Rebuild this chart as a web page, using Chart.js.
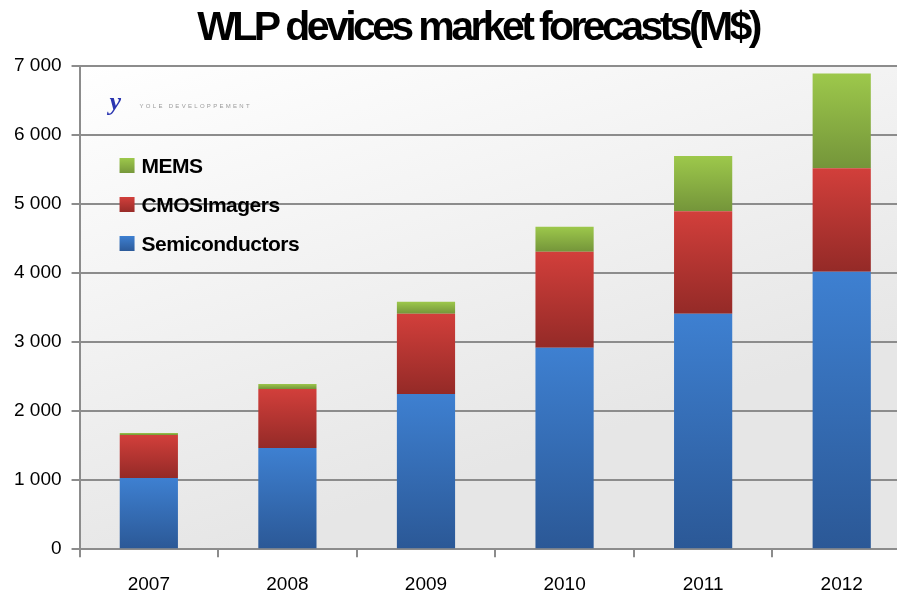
<!DOCTYPE html>
<html>
<head>
<meta charset="utf-8">
<script src="https://cdn.jsdelivr.net/npm/chart.js@4/dist/chart.umd.min.js"></script>
<style>
  html, body { margin: 0; padding: 0; background: #fff; overflow: hidden; }
  #wrap { width: 897px; height: 595px; overflow: hidden; }
</style>
</head>
<body>
<div id="wrap"><canvas id="wlpChart" width="911" height="612"></canvas></div>
<script>
const years = ['2007', '2008', '2009', '2010', '2011', '2012'];
const semiconductors = [1030, 1466, 2250, 2917, 3411, 4020];
const cmosImagers = [625, 856, 1160, 1393, 1484, 1500];
const mems = [30, 73, 175, 363, 800, 1370];
const yTicks = [0, 1000, 2000, 3000, 4000, 5000, 6000, 7000];
const chartTitle = 'WLP devices market forecasts(M$)';

// top / bottom colours of each segment's gradient
const shades = {
  Semiconductors: ['#3e80d1', '#2b5896'],
  CMOSImagers: ['#d23f3b', '#942a27'],
  MEMS: ['#9dc84b', '#74953a']
};

function segmentFill(ctx) {
  const chart = ctx.chart;
  const ds = chart.data.datasets[ctx.datasetIndex];
  const pair = shades[ds.key];
  const y = chart.scales.y;
  if (!chart.chartArea || !y || ctx.dataIndex === undefined) return pair[0];
  let base = 0;
  for (let i = 0; i < ctx.datasetIndex; i++) base += chart.data.datasets[i].data[ctx.dataIndex];
  const top = y.getPixelForValue(base + ds.data[ctx.dataIndex]);
  const bottom = y.getPixelForValue(base);
  if (!isFinite(top) || !isFinite(bottom) || top === bottom) return pair[0];
  const g = chart.ctx.createLinearGradient(0, top, 0, bottom);
  g.addColorStop(0, pair[0]);
  g.addColorStop(1, pair[1]);
  return g;
}

const plotBackground = {
  id: 'plotBackground',
  beforeDraw(chart) {
    const a = chart.chartArea;
    const c = chart.ctx;
    const g = c.createLinearGradient(a.left, a.top, a.left + 150, a.bottom);
    g.addColorStop(0, '#ffffff');
    g.addColorStop(1, '#e6e6e6');
    c.save();
    c.fillStyle = g;
    c.fillRect(a.left, a.top, a.right - a.left, a.bottom - a.top);
    c.restore();
  }
};

// condensed bold title, legend and logo inside the plot
const overlay = {
  id: 'overlay',
  afterDraw(chart) {
    const c = chart.ctx;
    const a = chart.chartArea;
    c.save();
    c.fillStyle = '#000';
    c.font = 'bold 41px "Liberation Sans"';
    c.letterSpacing = '-3.6px';
    c.textAlign = 'center';
    c.textBaseline = 'alphabetic';
    c.fillText(chartTitle, 478, 40);
    c.letterSpacing = '0px';
    c.textAlign = 'left';

    // logo
    c.fillStyle = '#2a35b0';
    c.font = 'italic bold 26px "Liberation Serif"';
    c.fillText('y', a.left + 30, a.top + 44);
    c.fillStyle = '#9a9a9a';
    c.font = '6px "Liberation Sans"';
    c.letterSpacing = '2.3px';
    c.fillText('YOLE DEVELOPPEMENT', a.left + 60, a.top + 42);
    c.letterSpacing = '0px';

    const items = chart.data.datasets.slice().reverse();
    const rows = [a.top + 100, a.top + 139, a.top + 178];
    c.font = 'bold 21px "Liberation Sans"';
    c.letterSpacing = '-0.5px';
    c.textBaseline = 'middle';
    items.forEach((ds, i) => {
      const pair = shades[ds.key];
      const g = c.createLinearGradient(0, rows[i] - 8, 0, rows[i] + 8);
      g.addColorStop(0, pair[0]);
      g.addColorStop(1, pair[1]);
      c.fillStyle = g;
      c.fillRect(a.left + 40, rows[i] - 8, 15, 15);
      c.fillStyle = '#000';
      c.fillText(ds.label, a.left + 62, rows[i] + 1);
    });
    c.restore();
  }
};

new Chart(document.getElementById('wlpChart'), {
  type: 'bar',
  data: {
    labels: years,
    datasets: [
      { key: 'Semiconductors', label: 'Semiconductors', data: semiconductors, backgroundColor: segmentFill },
      { key: 'CMOSImagers', label: 'CMOSImagers', data: cmosImagers, backgroundColor: segmentFill },
      { key: 'MEMS', label: 'MEMS', data: mems, backgroundColor: segmentFill }
    ]
  },
  options: {
    responsive: false,
    animation: false,
    layout: { padding: { left: 4, right: 0, top: 66, bottom: 0 } },
    datasets: { bar: { categoryPercentage: 1, barPercentage: 0.42 } },
    plugins: {
      legend: { display: false },
      tooltip: { enabled: false },
      title: { display: false }
    },
    scales: {
      x: {
        stacked: true,
        offset: true,
        grid: { offset: true, drawOnChartArea: false, drawTicks: true, tickLength: 8, color: '#8c8c8c', lineWidth: 2 },
        border: { color: '#8c8c8c', width: 2 },
        ticks: { color: '#000', font: { family: 'Liberation Sans', size: 19 }, padding: 16 }
      },
      y: {
        stacked: true,
        min: 0,
        max: 7000,
        afterBuildTicks(axis) { axis.ticks = yTicks.map(v => ({ value: v })); },
        grid: { color: '#8c8c8c', lineWidth: 2, tickLength: 8 },
        border: { color: '#8c8c8c', width: 2 },
        ticks: {
          color: '#000',
          font: { family: 'Liberation Sans', size: 19 },
          padding: 10,
          callback: v => String(v).replace(/\B(?=(\d{3})+(?!\d))/g, ' ')
        }
      }
    }
  },
  plugins: [plotBackground, overlay]
});
</script>
</body>
</html>
